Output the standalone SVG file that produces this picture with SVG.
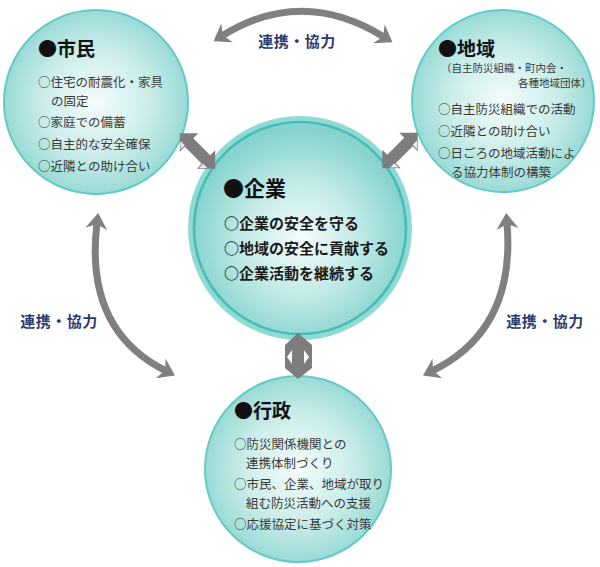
<svg xmlns="http://www.w3.org/2000/svg" width="600" height="567" viewBox="0 0 600 567">
<style>
.title{font-family:"Noto Sans CJK JP","Noto Sans",sans-serif;font-weight:700;fill:#111;}
.item{font-family:"Noto Sans CJK JP","Noto Sans",sans-serif;font-size:12.5px;fill:#3a3a3a;}
.sub{font-family:"Noto Sans CJK JP","Noto Sans",sans-serif;font-size:10.5px;fill:#3a3a3a;}
.big{font-family:"Noto Sans CJK JP","Noto Sans",sans-serif;font-size:15px;font-weight:700;fill:#1a1a1a;}
.lbl{font-family:"Noto Sans CJK JP","Noto Sans",sans-serif;font-size:15px;font-weight:700;fill:#2d3b6e;text-anchor:middle;letter-spacing:0.5px;}
.small{stroke:#62cbc5;stroke-width:2;fill:url(#gs);}
.curve{fill:none;stroke:#808080;stroke-width:7;marker-start:url(#ah);marker-end:url(#ah);}
.dbl{fill:#7d7d7d;}
</style>
<defs>
<radialGradient id="gs" cx="50%" cy="50%" r="50%">
<stop offset="0" stop-color="#f4fcfb"/>
<stop offset="0.55" stop-color="#cdeeeb"/>
<stop offset="1" stop-color="#9adad6"/>
</radialGradient>
<radialGradient id="gb" cx="50%" cy="55%" r="50%">
<stop offset="0" stop-color="#f4fcfb"/>
<stop offset="0.5" stop-color="#c4ebe8"/>
<stop offset="1" stop-color="#86d3ce"/>
</radialGradient>
<marker id="ah" markerUnits="userSpaceOnUse" orient="auto-start-reverse" viewBox="-5 -15 30 30" markerWidth="30" markerHeight="30" refX="6" refY="0" overflow="visible">
<path d="M16,0 L0,-11 L5,0 L0,11 Z" fill="#808080"/>
</marker>
</defs>

<g id="shimin">
<circle class="small" cx="96" cy="102" r="92"/>
<text class="title" x="38" y="56" font-size="19">●市民</text>
<text class="item" x="38" y="87">○住宅の耐震化・家具</text>
<text class="item" x="51" y="105.5">の固定</text>
<text class="item" x="38" y="127">○家庭での備蓄</text>
<text class="item" x="38" y="149">○自主的な安全確保</text>
<text class="item" x="38" y="171">○近隣との助け合い</text>
</g>

<g id="chiiki">
<circle class="small" cx="503" cy="101" r="91"/>
<text class="title" x="438" y="56" font-size="19">●地域</text>
<text class="sub" x="441" y="72">（自主防災組織・町内会・</text>
<text class="sub" x="518" y="87">各種地域団体）</text>
<text class="item" x="438" y="114">○自主防災組織での活動</text>
<text class="item" x="438" y="136">○近隣との助け合い</text>
<text class="item" x="438" y="158">○日ごろの地域活動によ</text>
<text class="item" x="451" y="176.5">る協力体制の構築</text>
</g>

<g id="kigyo">
<circle cx="300" cy="228" r="109" fill="url(#gb)" stroke="#8fdad5" stroke-width="6"/>
<circle cx="300" cy="228" r="106" fill="none" stroke="#45bdb6" stroke-width="2.5"/>
<text class="title" x="223" y="196" font-size="21">●企業</text>
<text class="big" x="224" y="229">○企業の安全を守る</text>
<text class="big" x="224" y="254">○地域の安全に貢献する</text>
<text class="big" x="224" y="279">○企業活動を継続する</text>
</g>

<g id="gyosei">
<circle class="small" cx="298" cy="469" r="93"/>
<text class="title" x="234" y="418" font-size="19">●行政</text>
<text class="item" x="234" y="449">○防災関係機関との</text>
<text class="item" x="246" y="467.5">連携体制づくり</text>
<text class="item" x="234" y="489">○市民、企業、地域が取り</text>
<text class="item" x="246" y="507.5">組む防災活動への支援</text>
<text class="item" x="234" y="529">○応援協定に基づく対策</text>
</g>

<g id="connectors">
<path class="curve" d="M222,36 Q302,-14 384,37"/>
<path class="curve" d="M97,223 Q84,330 166,371"/>
<path class="curve" d="M507,223 Q516,330 432,371"/>
<g transform="translate(197.5,151) rotate(45)">
<polygon class="dbl" points="-25,0 -12,-13 -12,-6 12,-6 12,-13 25,0 12,13 12,6 -12,6 -12,13"/>
<polygon points="-13,5 -13,11 -19,5" fill="#fff" opacity="0.85"/>
<polygon points="13,5 13,11 19,5" fill="#fff" opacity="0.85"/>
</g>
<g transform="translate(400,150.5) rotate(-45)">
<polygon class="dbl" points="-25,0 -12,-13 -12,-6 12,-6 12,-13 25,0 12,13 12,6 -12,6 -12,13"/>
<polygon points="-13,5 -13,11 -19,5" fill="#fff" opacity="0.85"/>
<polygon points="13,5 13,11 19,5" fill="#fff" opacity="0.85"/>
</g>
<g>
<polygon class="dbl" points="298,333 312,345 312,368 298,379 285,368 285,345"/>
<polygon points="287,357 292,350 292,364" fill="#fff"/>
<polygon points="309,357 304,350 304,364" fill="#fff"/>
</g>
<text class="lbl" x="297" y="47">連携・協力</text>
<text class="lbl" x="59" y="327">連携・協力</text>
<text class="lbl" x="545" y="327">連携・協力</text>
</g>
</svg>
